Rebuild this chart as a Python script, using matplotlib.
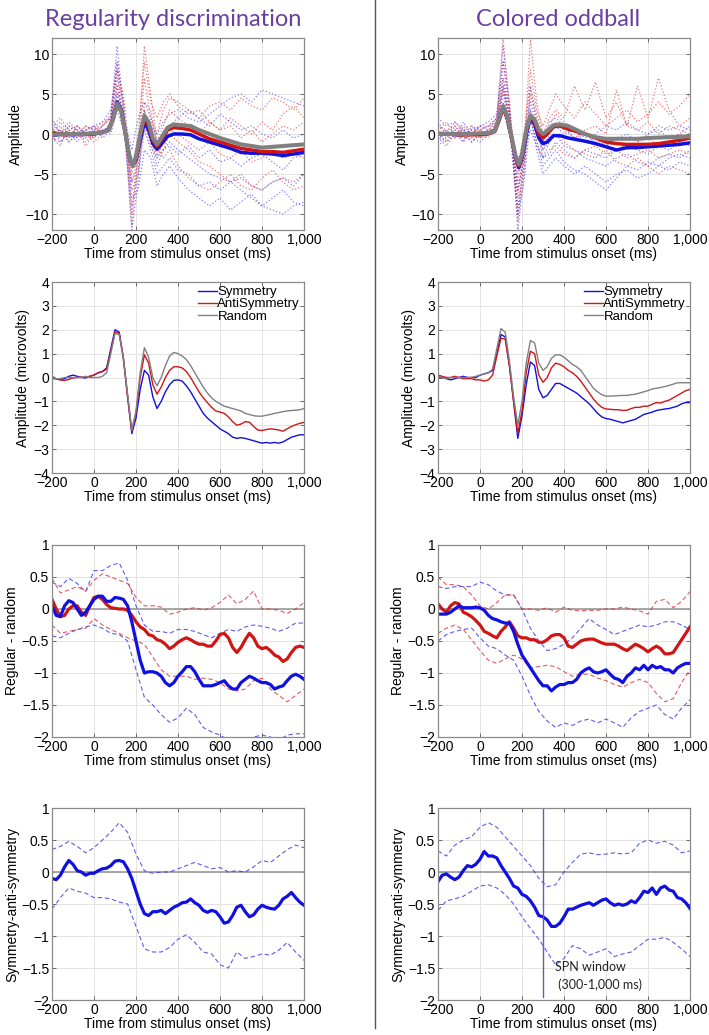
import numpy as np
import matplotlib
matplotlib.use("Agg")
import matplotlib.pyplot as plt
from matplotlib.lines import Line2D

plt.rcParams['font.family'] = ['Liberation Sans', 'DejaVu Sans']

# ---------------- data ----------------
# time grids (ms)
t20 = np.arange(-200, 1001, 20)
t40 = np.arange(-200, 1001, 40)
t_raw = np.array([-200, -160, -120, -80, -40, 0, 40, 80, 110, 140, 180, 210, 240, 270, 300,
                  330, 360, 400, 450, 500, 550, 600, 650, 700, 750, 800, 850, 900, 950, 1000])
t_mean = np.array([-200, -150, -100, -50, 0, 40, 70, 90, 110, 130, 150, 170, 185, 200, 220, 240, 260, 280,
                   300, 320, 350, 380, 420, 460, 500, 550, 600, 650, 700, 750, 800, 850, 900, 950, 1000])

# Row 1: grand means (thick) on the raw scale
reg_raw_sym = [-0.2, 0.0, -0.1, 0.0, 0.0, 0.2, 0.5, 2.0, 4.0, 3.0, 0.0, -3.0, -4.0, -3.2, -0.8, 1.5, 0.5, -1.2,
               -1.9, -1.3, -0.3, 0.0, 0.0, -0.1, -0.6, -1.0, -1.4, -1.8, -2.3, -2.4, -2.4, -2.5, -2.7, -2.5, -2.3]
reg_raw_anti = [0.2, -0.1, 0.0, 0.0, 0.1, 0.2, 0.5, 1.8, 3.7, 2.8, 0.0, -3.0, -4.0, -3.0, -0.3, 2.0, 1.0, -0.8,
                -1.6, -0.8, 0.5, 0.8, 0.7, 0.5, 0.0, -0.6, -1.0, -1.4, -1.8, -2.0, -2.2, -2.2, -2.3, -2.1, -1.9]
reg_raw_rand = [-0.1, 0.0, 0.0, 0.0, 0.1, 0.2, 0.5, 1.8, 3.8, 2.8, 0.0, -3.0, -4.0, -2.8, 0.0, 2.3, 1.5, -0.5,
                -1.3, -0.5, 0.8, 1.2, 1.1, 1.0, 0.5, 0.0, -0.5, -0.9, -1.3, -1.5, -1.7, -1.6, -1.5, -1.4, -1.3]
col_raw_sym = [0.0, 0.0, -0.1, 0.0, 0.0, 0.1, 0.4, 1.8, 3.3, 2.0, -0.5, -3.0, -4.2, -3.0, 0.0, 2.0, 1.2, -0.5,
               -1.2, -1.0, -0.2, -0.2, -0.5, -0.7, -0.9, -1.2, -1.6, -2.0, -1.7, -1.7, -1.6, -1.5, -1.4, -1.3, -1.1]
col_raw_anti = [0.1, 0.0, -0.1, -0.1, -0.1, 0.0, 0.3, 1.6, 3.2, 2.0, -0.5, -3.0, -4.0, -2.8, 0.3, 2.2, 1.5, 0.0,
                -0.5, 0.0, 0.9, 1.0, 0.6, 0.3, 0.0, -0.5, -1.0, -1.2, -1.3, -1.3, -1.3, -1.2, -1.0, -0.8, -0.5]
col_raw_rand = [0.0, 0.0, 0.0, 0.0, 0.1, 0.1, 0.4, 1.9, 3.5, 2.2, -0.3, -2.8, -3.8, -2.5, 0.5, 2.3, 1.8, 0.5,
                0.0, 0.4, 1.1, 1.2, 1.0, 0.5, 0.0, -0.4, -0.6, -0.6, -0.6, -0.6, -0.5, -0.45, -0.4, -0.35, -0.3]

# Row 1: individual participant waves (dotted)
reg_ind_blue = [
    [1.0, -1.0, 0.5, -0.5, 0.5, 0.0, 1.0, 2.0, 11.0, 3.0, -12.0, -6.0, 3.0, -1.0, -4.0, -2.0, -1.0, -2.0, -3.0, -4.0, -5.0, -5.5, -6.0, -7.0, -8.0, -9.0, -9.5, -10.0, -9.0, -8.5],
    [-1.0, 0.5, -0.5, 1.0, 0.0, -0.5, 0.5, 1.0, 6.0, 2.0, -6.0, -3.0, 1.0, -0.5, -3.0, -1.0, 1.0, 2.0, 3.0, 2.0, 1.0, 2.5, 1.5, 0.5, 1.0, 0.0, -0.5, 0.5, -0.5, 0.0],
    [0.5, 1.5, 0.0, -1.0, 0.5, 1.0, 0.0, 1.5, 8.0, 1.0, -9.0, -5.0, 0.5, -2.0, -5.0, -4.0, -3.0, -4.5, -5.0, -6.5, -6.0, -7.0, -6.0, -5.5, -6.5, -7.0, -6.0, -5.5, -6.5, -5.0],
    [-0.5, -1.5, 1.0, 0.5, -1.0, 0.0, 0.5, 0.0, 3.0, 0.5, -3.0, -2.0, 2.5, 1.0, 0.0, 1.5, 2.5, 3.0, 2.0, 1.5, 2.5, 3.5, 4.5, 5.0, 4.0, 5.5, 5.0, 4.5, 4.0, 3.5],
    [0.0, 0.5, -1.0, 0.0, 1.0, 0.5, -0.5, 0.5, 5.0, 2.5, -2.0, 2.0, 4.0, 2.0, -1.0, -2.0, -1.5, -2.5, -1.5, -3.0, -2.0, -3.5, -3.0, -4.0, -3.0, -2.5, -3.5, -4.5, -3.0, -2.5],
    [2.0, 0.0, 1.5, 0.5, -0.5, 1.0, 1.5, 3.0, 9.0, 4.0, -8.0, -7.0, -2.0, -3.0, -6.5, -5.0, -4.0, -5.5, -7.0, -8.0, -9.0, -8.0, -9.5, -8.5, -7.5, -9.0, -8.0, -7.0, -8.5, -9.0],
]
reg_ind_red = [
    [0.5, -0.5, 1.0, 0.0, -0.5, 0.5, 1.0, 2.0, 7.0, 4.0, -10.0, -2.0, 11.0, 5.0, -1.0, 1.0, 3.0, 2.0, 1.0, 0.0, 1.5, 0.5, 2.0, 1.0, 0.0, 1.5, 0.5, 2.5, 3.5, 2.0],
    [-1.0, 0.5, -0.5, 1.0, 0.0, -1.0, 0.0, 1.0, 5.0, 1.0, -6.0, -4.0, 1.0, -1.5, -3.0, -2.0, 0.0, -1.0, -2.0, -3.5, -4.0, -5.0, -6.0, -5.0, -6.5, -7.0, -6.0, -5.5, -6.0, -5.0],
    [1.0, 2.0, 0.5, -0.5, 1.0, 0.5, 1.5, 2.0, 9.0, 3.0, -11.5, -3.0, 7.0, 2.0, 0.0, 3.0, 4.5, 4.0, 3.0, 2.0, 3.5, 4.0, 3.0, 4.5, 3.5, 3.0, 4.5, 4.0, 3.0, 4.5],
    [-0.5, -1.0, 0.0, 0.5, -1.5, 0.0, 0.5, 0.5, 3.5, 2.0, -4.0, -3.0, 3.0, 0.0, -2.5, -1.0, 0.5, 0.0, -1.0, -2.0, -1.0, -2.5, -3.0, -2.0, -3.5, -3.0, -2.0, -3.0, -2.5, -3.0],
    [0.0, 1.0, -1.0, 0.0, 0.5, 1.0, 0.0, 1.5, 6.0, 2.5, -7.0, -5.0, 4.0, 3.0, -1.5, -3.0, -2.0, -4.0, -5.5, -6.5, -7.0, -6.0, -5.0, -6.5, -7.0, -5.5, -4.5, -6.0, -7.0, -6.5],
    [1.5, 0.0, 0.5, 1.0, 0.0, -0.5, 1.0, 2.5, 8.0, 5.0, -5.0, 0.0, 9.0, 4.0, 2.0, 4.0, 5.0, 3.5, 2.5, 3.0, 1.5, 0.5, 1.0, -0.5, 0.5, -1.0, 0.0, 1.0, 0.5, 1.5],
]
col_ind_blue = [
    [0.5, -0.5, 1.0, 0.0, 0.5, 1.0, 0.5, 2.0, 11.0, 4.0, -12.0, -5.0, 6.0, 1.0, -3.0, -1.0, 0.0, -1.5, -2.0, -3.0, -3.5, -4.0, -3.0, -2.5, -3.5, -4.0, -3.0, -2.5, -3.0, -2.0],
    [-1.0, 0.5, -0.5, 1.5, 0.0, -0.5, 0.0, 1.0, 5.0, 1.5, -7.0, -3.0, 2.0, -1.0, -4.0, -3.0, -2.0, -3.5, -4.5, -5.0, -6.0, -7.0, -5.5, -4.0, -4.5, -3.5, -4.0, -3.0, -2.5, -3.0],
    [1.5, 0.0, 0.5, -1.0, 1.0, 0.5, 1.0, 1.5, 7.0, 2.0, -9.0, -4.0, 3.0, 0.0, -2.0, 0.0, 1.0, 0.0, 0.5, -0.5, 0.0, 1.0, 0.5, 1.5, 0.5, 0.0, 1.0, 0.5, 1.0, 0.5],
    [0.0, -1.0, 0.0, 0.5, -1.0, 0.0, 0.5, 0.5, 3.0, 0.0, -3.0, -2.0, 0.5, -1.5, -3.0, -2.5, -1.0, -2.0, -3.0, -2.0, -2.5, -3.0, -2.0, -1.5, -2.0, -2.5, -1.5, -2.0, -1.0, -1.5],
    [2.0, 1.0, 1.5, 0.5, 0.0, 1.0, 1.5, 2.5, 9.0, 3.0, -6.0, 0.0, 4.0, 1.0, -1.0, 1.5, 2.0, 1.0, -0.5, 0.0, -1.0, -1.5, -0.5, 0.0, -1.0, 0.0, 0.5, -0.5, 0.0, 1.0],
    [-0.5, -1.5, 0.0, -0.5, -0.5, -1.0, 0.0, 1.0, 6.0, 1.0, -10.0, -6.0, 2.0, -2.0, -5.0, -4.0, -3.0, -4.0, -5.0, -4.0, -5.0, -6.0, -5.0, -4.5, -5.5, -5.0, -4.0, -4.5, -3.5, -4.0],
]
col_ind_red = [
    [1.0, 0.0, 1.5, 0.5, -0.5, 0.5, 1.0, 2.0, 12.0, 3.0, -11.0, -2.0, 12.0, 4.0, 0.0, 2.0, 3.0, 2.0, 6.0, 3.0, 6.5, 2.0, 4.0, 1.0, 6.0, 2.0, 7.0, 3.0, 1.0, 2.0],
    [-1.5, -0.5, 0.0, -1.0, 0.5, 0.0, -0.5, 1.0, 6.0, 2.0, -7.0, -3.0, 3.0, 0.0, -2.0, -1.0, 0.0, -1.0, -2.0, -2.5, -3.0, -2.0, -3.5, -4.0, -3.0, -4.0, -5.0, -4.0, -4.5, -5.0],
    [0.5, 1.5, 0.0, 0.5, 1.0, -0.5, 0.5, 1.5, 9.0, 4.0, -8.0, -1.0, 8.0, 3.0, 1.0, 3.0, 5.0, 3.5, 2.0, 4.0, 2.5, 1.0, 2.0, 3.0, 1.5, 2.5, 4.0, 2.5, 3.5, 5.0],
    [0.0, -1.0, 0.5, 0.0, -1.0, 0.0, 0.5, 0.5, 4.0, 1.0, -5.0, -2.0, 2.0, -1.0, -3.0, -2.0, -1.5, -2.5, -3.0, -2.0, -1.5, -2.5, -2.0, -3.0, -2.5, -2.0, -3.0, -2.5, -2.0, -2.5],
    [1.0, 0.5, -0.5, 1.0, 0.0, 1.0, 1.0, 2.0, 7.0, 3.0, -10.0, -4.0, 5.0, 2.0, -1.0, 0.5, 1.5, 0.5, -0.5, 0.5, 1.0, 0.0, 5.5, 1.0, 0.5, 1.5, 0.0, 1.0, 0.5, 0.0],
    [-0.5, 0.5, 1.0, -0.5, 0.5, 0.5, 0.0, 1.5, 5.5, 2.5, -4.0, 0.0, 6.0, 2.5, 0.0, 1.0, 2.5, 1.5, 0.5, -1.0, -0.5, -1.5, -1.0, -2.0, -1.0, -0.5, -1.5, -1.0, 0.0, -0.5],
]

# Row 2: grand average ERPs (microvolts), 20 ms steps
reg_sym = [-0.05, -0.05, -0.1, -0.05, 0.05, 0.1, 0.05, 0.0, -0.02, 0.05, 0.1, 0.2, 0.25, 0.4, 1.2, 2.0, 1.9, 0.8, -0.8, -2.35,
           -1.7, -0.5, 0.3, 0.1, -0.8, -1.3, -1.0, -0.6, -0.3, -0.12, -0.1, -0.15, -0.35, -0.6, -0.9, -1.2, -1.5, -1.7, -1.85, -2.0,
           -2.15, -2.25, -2.35, -2.5, -2.55, -2.52, -2.55, -2.6, -2.65, -2.7, -2.75, -2.72, -2.75, -2.72, -2.75, -2.7, -2.6, -2.5, -2.45, -2.4, -2.4]
reg_anti = [0.05, -0.05, -0.1, -0.12, -0.08, -0.02, 0.0, 0.02, 0.0, 0.05, 0.1, 0.2, 0.25, 0.35, 1.1, 1.9, 1.85, 0.8, -0.8, -2.25,
            -1.5, 0.0, 0.95, 0.6, -0.3, -0.7, -0.4, 0.0, 0.3, 0.45, 0.45, 0.4, 0.25, 0.0, -0.3, -0.6, -0.85, -1.05, -1.25, -1.4,
            -1.45, -1.5, -1.65, -1.85, -2.0, -1.95, -1.85, -1.87, -2.05, -2.2, -2.22, -2.18, -2.15, -2.17, -2.2, -2.25, -2.15, -2.05, -1.98, -1.92, -1.88]
reg_rand = [0.0, -0.05, -0.05, 0.0, 0.0, 0.0, 0.0, 0.0, 0.05, 0.0, 0.0, 0.0, 0.05, 0.2, 1.0, 1.85, 1.8, 0.8, -0.7, -2.2,
            -1.4, 0.2, 1.25, 0.85, 0.0, -0.35, 0.0, 0.5, 0.9, 1.05, 1.0, 0.9, 0.75, 0.5, 0.2, -0.1, -0.4, -0.65, -0.85, -1.0,
            -1.1, -1.2, -1.25, -1.3, -1.35, -1.4, -1.5, -1.55, -1.6, -1.62, -1.62, -1.58, -1.55, -1.5, -1.47, -1.43, -1.4, -1.38, -1.37, -1.35, -1.3]
col_sym = [0.0, 0.0, -0.05, -0.1, -0.05, 0.0, 0.05, 0.0, 0.0, 0.0, 0.1, 0.15, 0.2, 0.3, 1.0, 1.8, 1.7, 0.5, -1.0, -2.55,
           -1.6, -0.3, 0.65, 0.5, -0.5, -0.85, -0.75, -0.5, -0.25, -0.25, -0.35, -0.45, -0.55, -0.65, -0.8, -0.95, -1.1, -1.3, -1.5, -1.65,
           -1.72, -1.75, -1.8, -1.85, -1.9, -1.85, -1.8, -1.75, -1.65, -1.55, -1.5, -1.45, -1.38, -1.35, -1.32, -1.3, -1.25, -1.2, -1.1, -1.05, -1.05]
col_anti = [0.1, 0.05, 0.0, 0.0, 0.05, 0.0, -0.05, -0.05, -0.05, -0.1, -0.1, -0.15, -0.1, 0.1, 0.9, 1.65, 1.6, 0.5, -1.0, -2.35,
            -1.4, 0.2, 1.1, 1.0, 0.1, -0.2, 0.0, 0.4, 0.6, 0.55, 0.45, 0.3, 0.2, 0.05, -0.15, -0.4, -0.65, -0.9, -1.1, -1.25,
            -1.32, -1.33, -1.35, -1.35, -1.38, -1.37, -1.3, -1.25, -1.25, -1.2, -1.2, -1.12, -1.05, -1.07, -1.0, -0.95, -0.85, -0.75, -0.65, -0.55, -0.5]
col_rand = [0.05, 0.0, -0.05, 0.0, 0.0, 0.0, 0.0, 0.0, 0.0, 0.05, 0.1, 0.15, 0.2, 0.35, 1.2, 2.05, 1.9, 0.7, -0.8, -2.0,
            -1.0, 0.6, 1.55, 1.45, 0.6, 0.3, 0.45, 0.8, 0.95, 0.95, 0.85, 0.7, 0.55, 0.45, 0.3, 0.05, -0.2, -0.45, -0.6, -0.72,
            -0.78, -0.78, -0.77, -0.76, -0.75, -0.75, -0.72, -0.7, -0.65, -0.6, -0.55, -0.48, -0.45, -0.42, -0.38, -0.33, -0.28, -0.22, -0.22, -0.22, -0.22]

# Row 3: regular - random difference waves (20 ms) and 95% CI (40 ms)
reg_diff_sym = [0.05, -0.1, -0.12, 0.05, 0.13, 0.1, 0.0, -0.1, -0.05, 0.05, 0.15, 0.2, 0.2, 0.12, 0.12, 0.18, 0.17, 0.15, 0.05, -0.2,
                -0.5, -0.8, -1.0, -0.98, -0.98, -1.0, -1.05, -1.15, -1.2, -1.15, -1.05, -0.98, -0.9, -0.9, -0.98, -1.1, -1.2, -1.2, -1.2, -1.18,
                -1.15, -1.12, -1.2, -1.25, -1.25, -1.15, -1.1, -1.05, -1.08, -1.12, -1.15, -1.15, -1.18, -1.25, -1.22, -1.2, -1.12, -1.05, -1.02, -1.05, -1.1]
reg_diff_anti = [0.15, 0.0, -0.12, -0.1, 0.0, 0.05, 0.05, -0.05, -0.1, 0.05, 0.18, 0.2, 0.15, 0.07, 0.02, 0.01, 0.0, 0.0, -0.02, -0.1,
                 -0.2, -0.28, -0.32, -0.4, -0.42, -0.48, -0.5, -0.55, -0.62, -0.58, -0.52, -0.48, -0.45, -0.48, -0.52, -0.55, -0.55, -0.58, -0.58, -0.5,
                 -0.4, -0.38, -0.45, -0.6, -0.68, -0.6, -0.48, -0.38, -0.45, -0.58, -0.62, -0.6, -0.65, -0.72, -0.75, -0.82, -0.78, -0.68, -0.6, -0.58, -0.6]
reg_diff_sym_hi = [0.42, 0.35, 0.48, 0.4, 0.27, 0.6, 0.6, 0.68, 0.72, 0.45, 0.05, -0.25, -0.35, -0.35, -0.38, -0.32,
                   -0.32, -0.35, -0.4, -0.45, -0.38, -0.32, -0.35, -0.28, -0.25, -0.27, -0.3, -0.35, -0.3, -0.22, -0.22]
reg_diff_sym_lo = [-0.42, -0.45, -0.38, -0.32, -0.28, -0.25, -0.3, -0.38, -0.4, -0.5, -0.95, -1.38, -1.5, -1.65, -1.77, -1.7,
                   -1.55, -1.65, -1.85, -1.92, -1.97, -2.05, -2.1, -2.05, -2.0, -1.97, -2.0, -2.05, -1.97, -1.95, -1.95]
reg_diff_anti_hi = [0.48, 0.25, 0.3, 0.35, 0.28, 0.45, 0.55, 0.5, 0.45, 0.4, 0.18, 0.05, 0.05, 0.03, -0.08, -0.05,
                    0.0, 0.02, -0.02, 0.02, 0.1, 0.22, 0.08, 0.15, 0.28, 0.0, 0.0, -0.02, -0.07, 0.0, 0.1]
reg_diff_anti_lo = [-0.25, -0.38, -0.35, -0.32, -0.3, -0.15, -0.25, -0.32, -0.38, -0.45, -0.5, -0.55, -0.75, -0.95, -1.05, -1.05,
                    -1.05, -1.1, -1.08, -1.1, -1.15, -1.25, -1.28, -1.25, -1.12, -1.08, -1.25, -1.35, -1.45, -1.35, -1.25]

col_diff_sym = [-0.08, -0.08, -0.08, -0.05, 0.0, 0.05, 0.02, 0.02, 0.02, 0.03, 0.02, -0.02, -0.1, -0.15, -0.17, -0.2, -0.22, -0.22, -0.35, -0.55,
                -0.72, -0.82, -0.92, -1.02, -1.12, -1.2, -1.2, -1.28, -1.22, -1.18, -1.18, -1.15, -1.15, -1.1, -1.0, -0.95, -0.92, -0.98, -1.0, -0.98,
                -0.95, -1.02, -1.08, -1.1, -1.15, -1.05, -1.0, -0.92, -0.95, -0.88, -0.95, -0.88, -0.92, -0.9, -0.95, -0.95, -1.0, -0.92, -0.88, -0.85, -0.85]
col_diff_anti = [0.08, 0.0, -0.05, 0.05, 0.1, 0.08, -0.05, -0.08, -0.12, -0.18, -0.25, -0.35, -0.38, -0.42, -0.45, -0.35, -0.28, -0.2, -0.3, -0.42,
                 -0.45, -0.45, -0.48, -0.48, -0.52, -0.52, -0.48, -0.42, -0.4, -0.4, -0.45, -0.58, -0.6, -0.55, -0.5, -0.48, -0.47, -0.47, -0.5, -0.53,
                 -0.55, -0.55, -0.55, -0.58, -0.62, -0.65, -0.6, -0.55, -0.58, -0.62, -0.67, -0.62, -0.58, -0.62, -0.7, -0.7, -0.68, -0.58, -0.48, -0.38, -0.28]
col_diff_sym_hi = [0.35, 0.32, 0.35, 0.35, 0.35, 0.42, 0.38, 0.28, 0.22, 0.22, 0.0, -0.3, -0.5, -0.65, -0.62, -0.55,
                   -0.45, -0.3, -0.15, -0.25, -0.32, -0.4, -0.35, -0.3, -0.25, -0.28, -0.25, -0.2, -0.2, -0.25, -0.32]
col_diff_sym_lo = [-0.5, -0.4, -0.35, -0.32, -0.3, -0.45, -0.58, -0.62, -0.72, -0.8, -1.05, -1.35, -1.6, -1.75, -1.85, -1.78,
                   -1.82, -1.75, -1.72, -1.78, -1.72, -1.78, -1.85, -1.7, -1.6, -1.55, -1.5, -1.65, -1.72, -1.55, -1.42]
col_diff_anti_hi = [0.5, 0.38, 0.38, 0.35, 0.22, 0.05, 0.0, 0.1, 0.22, 0.22, 0.0, 0.0, -0.02, 0.02, -0.05, 0.03,
                    -0.02, -0.03, -0.02, -0.02, 0.0, 0.0, 0.03, 0.0, -0.03, -0.08, 0.12, 0.15, 0.02, 0.12, 0.27]
col_diff_anti_lo = [-0.38, -0.3, -0.25, -0.32, -0.48, -0.65, -0.8, -0.85, -0.78, -0.72, -0.78, -0.92, -0.9, -0.88, -0.9, -0.98,
                    -1.05, -1.02, -1.02, -1.08, -1.12, -1.18, -1.22, -1.15, -1.1, -1.15, -1.32, -1.45, -1.4, -1.15, -0.95]

# Row 4: symmetry - antisymmetry
reg_sa = [-0.1, -0.12, -0.05, 0.08, 0.18, 0.12, 0.02, 0.0, -0.05, -0.02, -0.02, 0.02, 0.05, 0.06, 0.1, 0.17, 0.18, 0.16, 0.05, -0.1,
          -0.3, -0.5, -0.65, -0.68, -0.62, -0.62, -0.6, -0.65, -0.6, -0.55, -0.52, -0.48, -0.47, -0.42, -0.48, -0.52, -0.6, -0.63, -0.6, -0.62,
          -0.7, -0.8, -0.78, -0.68, -0.55, -0.52, -0.62, -0.7, -0.67, -0.58, -0.52, -0.55, -0.57, -0.58, -0.52, -0.42, -0.38, -0.32, -0.4, -0.47, -0.52]
reg_sa_hi = [0.35, 0.4, 0.48, 0.4, 0.3, 0.38, 0.5, 0.62, 0.77, 0.62, 0.28, 0.02, -0.02, 0.0, 0.0, 0.05,
             0.1, 0.15, 0.1, 0.05, 0.07, 0.0, 0.02, 0.0, 0.08, 0.18, 0.15, 0.25, 0.35, 0.42, 0.38]
reg_sa_lo = [-0.58, -0.4, -0.25, -0.3, -0.33, -0.4, -0.4, -0.42, -0.47, -0.5, -0.85, -1.2, -1.25, -1.25, -1.18, -1.05,
             -0.98, -1.1, -1.25, -1.28, -1.45, -1.5, -1.25, -1.35, -1.32, -1.28, -1.3, -1.22, -1.1, -1.25, -1.38]
col_sa = [-0.15, -0.05, -0.03, -0.08, -0.12, -0.08, 0.02, 0.1, 0.08, 0.12, 0.2, 0.32, 0.25, 0.25, 0.22, 0.1, 0.0, -0.1, -0.22, -0.25,
          -0.35, -0.38, -0.45, -0.55, -0.68, -0.7, -0.75, -0.85, -0.85, -0.8, -0.7, -0.58, -0.58, -0.55, -0.52, -0.5, -0.48, -0.52, -0.48, -0.44,
          -0.42, -0.48, -0.52, -0.5, -0.52, -0.5, -0.45, -0.48, -0.4, -0.3, -0.32, -0.25, -0.35, -0.25, -0.22, -0.28, -0.3, -0.4, -0.42, -0.48, -0.57]
col_sa_hi = [0.33, 0.25, 0.42, 0.5, 0.55, 0.7, 0.77, 0.7, 0.55, 0.4, 0.25, 0.1, -0.1, -0.23, -0.2, 0.0,
             0.15, 0.28, 0.3, 0.27, 0.28, 0.3, 0.28, 0.3, 0.45, 0.5, 0.45, 0.48, 0.42, 0.3, 0.33]
col_sa_lo = [-0.6, -0.45, -0.42, -0.38, -0.3, -0.22, -0.2, -0.25, -0.35, -0.5, -0.7, -0.88, -1.05, -1.25, -1.45, -1.35,
             -1.15, -1.2, -1.3, -1.25, -1.2, -1.32, -1.28, -1.25, -1.15, -1.05, -1.05, -1.02, -1.1, -1.2, -1.32]

xticks = [-200, 0, 200, 400, 600, 800, 1000]
xticklabels = ['\u2212200', '0', '200', '400', '600', '800', '1,000']

# ---------------- figure ----------------
BLUE = '#1010e0'
RED = '#d01515'
GRAY = '#808080'
PURPLE = '#6a3fa0'

fig = plt.figure(figsize=(7.09, 10.35), dpi=100)

W, H = 709.0, 1035.0
col_x = [52, 438]
row_y = [(38, 230), (282, 473), (545, 737), (808, 1000)]


def make_ax(c, r):
    top, bot = row_y[r]
    return fig.add_axes([col_x[c] / W, 1 - bot / H, 252 / W, (bot - top) / H])


def style(ax, ylim, yticks, ylabels, ylabel):
    ax.set_xlim(-200, 1000)
    ax.set_ylim(*ylim)
    ax.set_xticks(xticks)
    ax.set_xticklabels(xticklabels)
    ax.set_yticks(yticks)
    ax.set_yticklabels(ylabels)
    ax.grid(True, color='#e3e3e3', lw=0.7)
    ax.set_axisbelow(True)
    ax.tick_params(direction='in', length=3, width=0.6, color='#555555',
                   top=True, right=True, labelsize=10, pad=2)
    for s in ax.spines.values():
        s.set_color('#8a8a8a')
        s.set_linewidth(0.9)
    ax.set_xlabel('Time from stimulus onset (ms)', fontsize=10, labelpad=0)
    ax.set_ylabel(ylabel, fontsize=10, labelpad=2)


def mlab(vals):
    out = []
    for v in vals:
        s = ('%g' % v).replace('-', '\u2212')
        out.append(s)
    return out


# row 1: individual waves + grand means
for c, (ib, ir, ms, ma, mr) in enumerate([
        (reg_ind_blue, reg_ind_red, reg_raw_sym, reg_raw_anti, reg_raw_rand),
        (col_ind_blue, col_ind_red, col_raw_sym, col_raw_anti, col_raw_rand)]):
    ax = make_ax(c, 0)
    for b, r in zip(ib, ir):
        ax.plot(t_raw, b, ls=':', lw=0.9, color='#3030ff', alpha=0.6)
        ax.plot(t_raw, r, ls=':', lw=0.9, color='#e02020', alpha=0.6)
    ax.plot(t_mean, ms, color=BLUE, lw=2.5)
    ax.plot(t_mean, ma, color=RED, lw=2.5)
    ax.plot(t_mean, mr, color=GRAY, lw=2.9)
    yt = [-10, -5, 0, 5, 10]
    style(ax, (-12, 12), yt, mlab(yt), 'Amplitude')

# row 2: grand averages
for c, (s, a, r) in enumerate([(reg_sym, reg_anti, reg_rand), (col_sym, col_anti, col_rand)]):
    ax = make_ax(c, 1)
    ax.plot(t20, s, color=BLUE, lw=1.0, label='Symmetry')
    ax.plot(t20, a, color=RED, lw=1.0, label='AntiSymmetry')
    ax.plot(t20, r, color=GRAY, lw=1.0, label='Random')
    yt = [-4, -3, -2, -1, 0, 1, 2, 3, 4]
    style(ax, (-4, 4), yt, mlab(yt), 'Amplitude (microvolts)')
    ax.legend(loc='upper right', frameon=False, fontsize=9.5, handlelength=1.5,
              handletextpad=0.0, labelspacing=0.0, borderaxespad=0.1, borderpad=0.2)

# row 3: regular - random
dash = (0, (4, 2.5))
for c, (s, a, sh, sl, ah, al) in enumerate([
        (reg_diff_sym, reg_diff_anti, reg_diff_sym_hi, reg_diff_sym_lo, reg_diff_anti_hi, reg_diff_anti_lo),
        (col_diff_sym, col_diff_anti, col_diff_sym_hi, col_diff_sym_lo, col_diff_anti_hi, col_diff_anti_lo)]):
    ax = make_ax(c, 2)
    ax.axhline(0, color='#a0a0a0', lw=1.3, zorder=1)
    ax.plot(t40, sh, color='#3535ee', lw=0.8, ls=dash, alpha=0.8)
    ax.plot(t40, sl, color='#3535ee', lw=0.8, ls=dash, alpha=0.8)
    ax.plot(t40, ah, color='#e03030', lw=0.8, ls=dash, alpha=0.8)
    ax.plot(t40, al, color='#e03030', lw=0.8, ls=dash, alpha=0.8)
    ax.plot(t20, a, color=RED, lw=2.3)
    ax.plot(t20, s, color=BLUE, lw=2.3)
    yt = [-2, -1.5, -1, -0.5, 0, 0.5, 1]
    style(ax, (-2, 1), yt, mlab(yt), 'Regular - random')

# row 4: symmetry - antisymmetry
for c, (s, sh, sl) in enumerate([(reg_sa, reg_sa_hi, reg_sa_lo), (col_sa, col_sa_hi, col_sa_lo)]):
    ax = make_ax(c, 3)
    ax.axhline(0, color='#a0a0a0', lw=1.3, zorder=1)
    ax.plot(t40, sh, color='#3535ee', lw=0.8, ls=dash, alpha=0.8)
    ax.plot(t40, sl, color='#3535ee', lw=0.8, ls=dash, alpha=0.8)
    ax.plot(t20, s, color=BLUE, lw=2.3)
    yt = [-2, -1.5, -1, -0.5, 0, 0.5, 1]
    style(ax, (-2, 1), yt, mlab(yt), 'Symmetry-anti-symmetry')
    if c == 1:
        # SPN window marker
        ax.plot([300, 300], [-1.95, 1.0], color='#6a5aa8', lw=1.0)
        ax.text(358, -1.63, 'SPN window\n (300-1,000 ms)', fontsize=9, family='Lato',
                color='#222222', va='center', ha='left', linespacing=1.5)

# column titles
fig.text(173 / W, 1 - 19 / H, 'Regularity discrimination', color=PURPLE,
         fontsize=17, family='Lato', ha='center', va='center')
fig.text(558 / W, 1 - 19 / H, 'Colored oddball', color=PURPLE,
         fontsize=17, family='Lato', ha='center', va='center')

# divider between columns
fig.add_artist(Line2D([375 / W, 375 / W], [1.0, 1 - 1028 / H], color='#555555', lw=1.0))

fig.savefig('out.png', dpi=100)
